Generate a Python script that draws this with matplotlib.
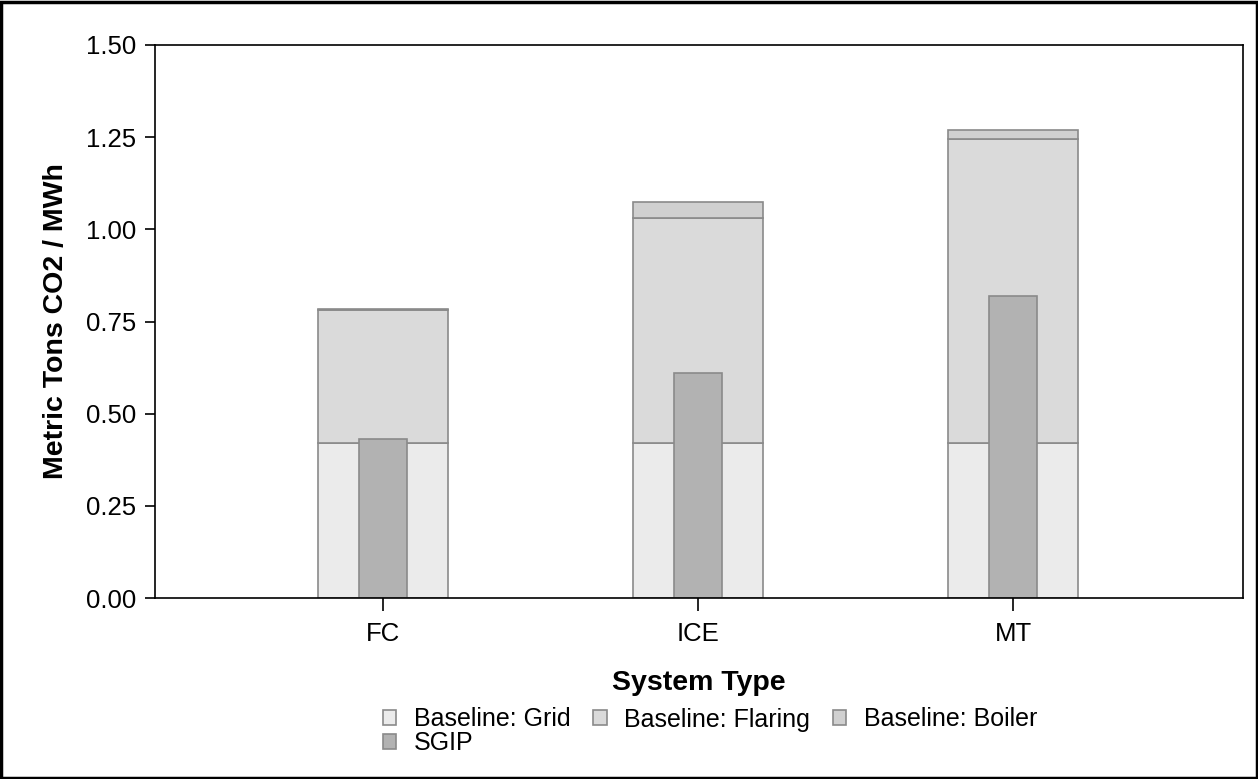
import matplotlib.pyplot as plt
from matplotlib.patches import Rectangle
import numpy as np

plt.rcParams['font.family'] = ['Liberation Sans', 'DejaVu Sans']

# data
systems = ['FC', 'ICE', 'MT']
grid = [0.42, 0.42, 0.42]
flaring = [0.36, 0.61, 0.825]
boiler = [0.004, 0.045, 0.025]
sgip = [0.43, 0.61, 0.82]

yticks = [0.00, 0.25, 0.50, 0.75, 1.00, 1.25, 1.50]

fig = plt.figure(figsize=(12.58, 7.79), dpi=100)
ax = fig.add_axes([155 / 1258, 1 - 598 / 779, (1243 - 155) / 1258, (598 - 45) / 779])

x = np.arange(len(systems))
edge = '#8a8a8a'
b1 = ax.bar(x, grid, width=0.41, color='#ebebeb', edgecolor=edge, linewidth=1.2,
            label='Baseline: Grid')
b2 = ax.bar(x, flaring, width=0.41, bottom=grid, color='#dadada', edgecolor=edge,
            linewidth=1.2, label='Baseline: Flaring')
b3 = ax.bar(x, boiler, width=0.41, bottom=np.array(grid) + np.array(flaring),
            color='#d0d0d0', edgecolor=edge, linewidth=1.2, label='Baseline: Boiler')
b4 = ax.bar(x, sgip, width=0.155, color='#b2b2b2', edgecolor=edge, linewidth=1.2,
            label='SGIP')

ax.set_xlim(-0.724, 2.73)
ax.set_ylim(0, 1.5)
ax.set_yticks(yticks)
ax.set_yticklabels([f'{v:.2f}' for v in yticks], fontsize=18.5)
ax.set_xticks(x)
ax.set_xticklabels(systems, fontsize=18.5)
ax.tick_params(axis='y', length=7.5, width=1.2, pad=6)
ax.tick_params(axis='x', length=9.5, width=1.2, pad=8)
for s in ax.spines.values():
    s.set_linewidth(1.2)

ax.set_ylabel('Metric Tons CO2 / MWh', fontsize=20.5, fontweight='bold', labelpad=12)
ax.set_xlabel('System Type', fontsize=20.5, fontweight='bold', labelpad=17)

# legend: row-wise order wanted, matplotlib fills column-wise
handles = [b1, b4, b2, b3]
fig.legend(handles, [h.get_label() for h in handles], ncol=3, loc='upper left',
           bbox_to_anchor=(370 / 1258, 1 - 695 / 779), frameon=False, fontsize=18,
           handlelength=0.55, handleheight=0.55, handletextpad=0.7, columnspacing=0.9,
           labelspacing=0.0, borderpad=0)

# black frame round the figure
fig.patches.append(Rectangle((0.001, 0.001), 0.998, 0.997, transform=fig.transFigure,
                             fill=False, edgecolor='black', linewidth=2.5))

fig.savefig('out.png', dpi=100)
